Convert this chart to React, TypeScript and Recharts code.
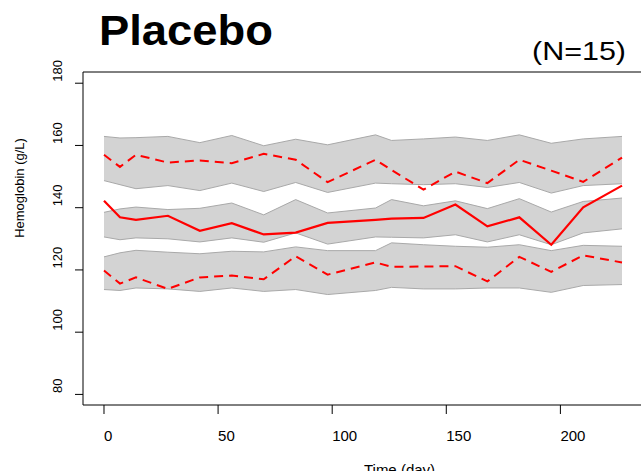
import React from "react";
import {
  ComposedChart,
  Area,
  Line,
  XAxis,
  YAxis,
  ReferenceLine,
} from "recharts";

// visit days
const days = [0, 7, 14, 28, 42, 56, 70, 84, 98, 119, 126, 140, 154, 168, 182, 196, 210, 227];

// upper percentile band + line
const topHi = [162.9, 162.4, 162.5, 162.9, 160.9, 163.2, 159.9, 162.0, 160.2, 163.4, 161.6, 162.1, 162.7, 161.6, 163.4, 160.7, 162.1, 162.9];
const topLo = [148.7, 147.4, 146.1, 147.1, 145.5, 147.9, 145.2, 148.1, 144.9, 147.9, 147.7, 147.4, 147.7, 146.5, 148.1, 144.7, 147.1, 147.7];
const upperObs = [157.0, 153.1, 157.0, 154.5, 155.2, 154.3, 157.3, 155.4, 148.2, 155.4, 152.1, 145.8, 151.6, 147.9, 155.4, 151.9, 148.3, 156.1];

// median band + line
const midHi = [138.5, 139.6, 140.2, 139.4, 139.8, 141.5, 137.7, 142.6, 138.3, 139.9, 142.6, 140.6, 142.2, 139.7, 142.9, 138.6, 142.0, 143.1];
const midLo = [130.6, 129.7, 130.3, 130.0, 129.0, 130.3, 128.9, 131.9, 128.3, 130.6, 130.5, 130.3, 131.3, 129.0, 131.3, 128.1, 131.9, 133.2];
const medianObs = [142.2, 136.9, 136.1, 137.4, 132.6, 135.0, 131.4, 132.0, 135.1, 136.1, 136.5, 136.7, 141.0, 134.0, 136.9, 128.1, 140.1, 147.1];

// lower percentile band + line
const lowHi = [124.2, 125.5, 126.3, 125.7, 125.2, 126.0, 125.8, 127.4, 126.2, 126.2, 128.7, 128.1, 127.6, 127.3, 128.1, 126.2, 127.9, 127.6];
const lowLo = [113.7, 113.4, 114.2, 113.9, 113.1, 114.2, 113.1, 113.7, 112.1, 113.4, 114.4, 113.9, 113.9, 114.2, 114.2, 112.8, 115.0, 115.3];
const lowerObs = [119.8, 115.6, 117.6, 113.9, 117.6, 118.2, 117.0, 124.4, 118.5, 122.4, 121.0, 121.1, 121.2, 116.3, 124.2, 119.4, 124.7, 122.4];

const xTicks = [0, 50, 100, 150, 200];
const yTicks = [80, 100, 120, 140, 160, 180];
const xDomain = [-9.2, 236.2];
const yDomain = [76.6, 183.6];

const data = days.map((t, i) => ({
  t,
  topBand: [topLo[i], topHi[i]],
  midBand: [midLo[i], midHi[i]],
  lowBand: [lowLo[i], lowHi[i]],
  upper: upperObs[i],
  median: medianObs[i],
  lower: lowerObs[i],
}));

const FONT = "'Liberation Sans', Arial, Helvetica, sans-serif";

const XTick = (props: any) => {
  const { x, y, payload } = props;
  return (
    <text x={x} y={y + 25} textAnchor="start" fontSize={15} fontFamily={FONT} fill="#000">
      {payload.value}
    </text>
  );
};

const YTick = (props: any) => {
  const { x, y, payload } = props;
  const tx = x - 11;
  const ty = y - 1.5;
  return (
    <text
      x={tx}
      y={ty}
      transform={`rotate(-90 ${tx} ${ty})`}
      textAnchor="start"
      fontSize={13}
      fontFamily={FONT}
      fill="#000"
    >
      {payload.value}
    </text>
  );
};

const bandProps = {
  type: "linear" as const,
  fill: "#d3d3d3",
  fillOpacity: 1,
  stroke: "#a9a9a9",
  strokeWidth: 1,
  isAnimationActive: false,
  activeDot: false,
  dot: false,
};

export default function App() {
  return (
    <div
      style={{
        position: "fixed",
        left: 0,
        top: 0,
        width: 641,
        height: 471,
        overflow: "hidden",
        background: "#fff",
      }}
    >
      <div style={{ position: "absolute", left: 0, top: 0 }}>
        <ComposedChart
          width={710}
          height={471}
          data={data}
          margin={{ top: 72, right: 67, bottom: 0, left: 0 }}
        >
          <XAxis
            dataKey="t"
            type="number"
            domain={xDomain}
            ticks={xTicks}
            allowDataOverflow
            height={66}
            stroke="#000"
            tickSize={9}
            tick={<XTick />}
          />
          <YAxis
            type="number"
            domain={yDomain}
            ticks={yTicks}
            allowDataOverflow
            width={83}
            stroke="#000"
            tickSize={8}
            tick={<YTick />}
          />
          <ReferenceLine y={yDomain[1]} stroke="#000" strokeWidth={1} />
          <Area dataKey="topBand" {...bandProps} />
          <Area dataKey="midBand" {...bandProps} />
          <Area dataKey="lowBand" {...bandProps} />
          <Line
            dataKey="upper"
            type="linear"
            stroke="#ff0000"
            strokeWidth={2}
            strokeDasharray="9 6"
            dot={false}
            activeDot={false}
            isAnimationActive={false}
          />
          <Line
            dataKey="median"
            type="linear"
            stroke="#ff0000"
            strokeWidth={2.2}
            dot={false}
            activeDot={false}
            isAnimationActive={false}
          />
          <Line
            dataKey="lower"
            type="linear"
            stroke="#ff0000"
            strokeWidth={2}
            strokeDasharray="9 6"
            dot={false}
            activeDot={false}
            isAnimationActive={false}
          />
        </ComposedChart>
      </div>
      <svg
        width={641}
        height={471}
        style={{ position: "absolute", left: 0, top: 0, pointerEvents: "none" }}
      >
        <text
          x={99}
          y={45}
          fontSize={42}
          fontWeight="bold"
          fontFamily={FONT}
          textLength={174}
          lengthAdjust="spacingAndGlyphs"
          fill="#000"
        >
          Placebo
        </text>
        <text
          x={532}
          y={60}
          fontSize={25.5}
          fontFamily={FONT}
          textLength={94}
          lengthAdjust="spacingAndGlyphs"
          fill="#000"
        >
          (N=15)
        </text>
        <text
          x={24}
          y={188}
          transform="rotate(-90 24 188)"
          textAnchor="middle"
          fontSize={13}
          fontFamily={FONT}
          fill="#000"
        >
          Hemoglobin (g/L)
        </text>
        <text
          x={399.5}
          y={475}
          textAnchor="middle"
          fontSize={15}
          fontFamily={FONT}
          fill="#000"
        >
          Time (day)
        </text>
      </svg>
    </div>
  );
}
